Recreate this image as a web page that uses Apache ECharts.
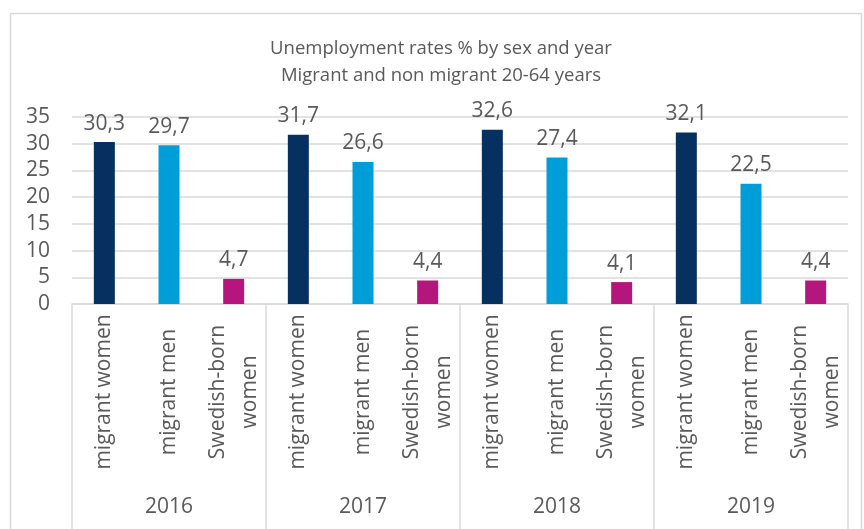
<!DOCTYPE html>
<html>
<head>
<meta charset="utf-8">
<script src="https://cdn.jsdelivr.net/npm/echarts@6/dist/echarts.min.js"></script>
<style>
  html, body { margin: 0; padding: 0; background: #fff; }
  #chart { width: 864px; height: 529px; }
</style>
</head>
<body>
<div id="chart"></div>
<script>
// data
var years = ['2016', '2017', '2018', '2019']
var groups = ['migrant women', 'migrant men', 'Swedish-born\nwomen']
var migrantWomen = [30.3, 31.7, 32.6, 32.1]
var migrantMen = [29.7, 26.6, 27.4, 22.5]
var swedishBornWomen = [4.7, 4.4, 4.1, 4.4]
var yTicks = [0, 5, 10, 15, 20, 25, 30, 35]

var groupColors = ['#05305f', '#009ed8', '#b4167e']
var textColor = '#595959'
var lineColor = '#d9d9d9'
var font = '"Open Sans", sans-serif'

// build 12 categories (3 per year) and one bar per category
var categories = []
var barData = []
var seriesByGroup = [migrantWomen, migrantMen, swedishBornWomen]
for (var y = 0; y < years.length; y++) {
  for (var g = 0; g < groups.length; g++) {
    categories.push(groups[g])
    barData.push({
      value: seriesByGroup[g][y],
      itemStyle: { color: groupColors[g] }
    })
  }
}

var chart = echarts.init(document.getElementById('chart'), null, { renderer: 'canvas' })
chart.setOption({
  animation: false,
  backgroundColor: '#fff',
  textStyle: { fontFamily: font },
  title: {
    text: 'Unemployment rates % by sex and year\nMigrant and non migrant 20-64 years',
    left: 436,
    textAlign: 'center',
    top: 30,
    textStyle: {
      fontFamily: font,
      fontSize: 18.5,
      fontWeight: 'normal',
      color: textColor,
      lineHeight: 27
    }
  },
  graphic: [{
    type: 'rect',
    left: 8,
    top: 11,
    shape: { width: 851, height: 540 },
    style: { fill: 'none', stroke: lineColor, lineWidth: 1.5 },
    silent: true,
    z: -1
  }],
  grid: {
    left: 72,
    right: 16,
    top: 117,
    bottom: 225,
    containLabel: false
  },
  xAxis: [{
    type: 'category',
    data: categories,
    position: 'bottom',
    axisLine: { show: true, lineStyle: { color: lineColor, width: 1.5 } },
    axisTick: { show: false },
    axisLabel: {
      interval: 0,
      rotate: 90,
      align: 'center',
      margin: 88,
      color: textColor,
      fontSize: 21,
      lineHeight: 32,
      fontFamily: font
    }
  }, {
    type: 'category',
    data: years,
    position: 'bottom',
    axisLine: { show: false },
    axisTick: {
      show: true,
      interval: 0,
      length: 235,
      lineStyle: { color: lineColor, width: 1.5 }
    },
    axisLabel: {
      interval: 0,
      margin: 193,
      color: textColor,
      fontSize: 21,
      fontFamily: font
    }
  }],
  yAxis: {
    type: 'value',
    min: yTicks[0],
    max: yTicks[yTicks.length - 1],
    interval: 5,
    axisLine: { show: false },
    axisTick: { show: false },
    splitLine: { show: true, lineStyle: { color: lineColor, width: 1.5 } },
    axisLabel: {
      margin: 22,
      color: textColor,
      fontSize: 21,
      fontFamily: font
    }
  },
  series: [{
    type: 'bar',
    xAxisIndex: 0,
    data: barData,
    barWidth: 21,
    label: {
      show: true,
      position: 'top',
      distance: 8,
      color: textColor,
      fontSize: 21,
      fontFamily: font,
      formatter: function (p) {
        return p.value.toFixed(1).replace('.', ',')
      }
    }
  }]
})
</script>
</body>
</html>
